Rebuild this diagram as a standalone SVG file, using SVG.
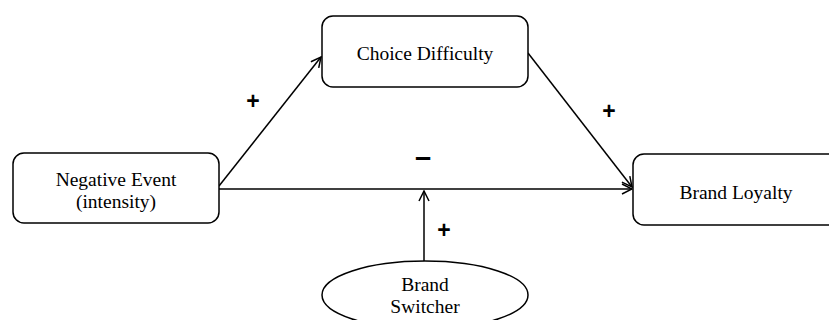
<svg xmlns="http://www.w3.org/2000/svg" width="829" height="320" viewBox="0 0 829 320">
<defs>
<style>
.box{fill:#fff;stroke:#000;stroke-width:1.5}
.lbl{font-family:"Liberation Serif","Times New Roman",serif;font-size:19.5px;fill:#000;text-anchor:middle}
.sign{font-family:"Liberation Sans",Arial,sans-serif;font-weight:bold;font-size:23px;fill:#000;text-anchor:middle}
.edge{stroke:#000;stroke-width:1.5;fill:none}
</style>
<marker id="arr" viewBox="0 0 12 12" refX="11" refY="6" markerWidth="12" markerHeight="12" markerUnits="userSpaceOnUse" orient="auto">
<path d="M1,1 L11,6 L1,11" fill="none" stroke="#000" stroke-width="1.5"/>
</marker>
</defs>
<rect width="829" height="320" fill="#fff"/>
<g id="connectors">
<line class="edge" x1="219" y1="189" x2="632" y2="189" marker-end="url(#arr)"/>
<line class="edge" x1="219" y1="186" x2="321" y2="57" marker-end="url(#arr)"/>
<line class="edge" x1="528" y1="53" x2="632" y2="187" marker-end="url(#arr)"/>
<line class="edge" x1="424" y1="261" x2="424" y2="191" marker-end="url(#arr)"/>
<text class="sign" x="253" y="109">+</text>
<text class="sign" x="609" y="119">+</text>
<text class="sign" x="444" y="238">+</text>
<text class="sign" x="423" y="167" style="font-size:29px">–</text>
</g>
<g id="negative-event">
<rect class="box" x="13" y="153" width="206" height="70" rx="11"/>
<text class="lbl" x="116" y="186">Negative Event</text>
<text class="lbl" x="116" y="208">(intensity)</text>
</g>
<g id="choice-difficulty">
<rect class="box" x="322" y="16" width="206" height="71" rx="11"/>
<text class="lbl" x="425" y="60">Choice Difficulty</text>
</g>
<g id="brand-loyalty">
<rect class="box" x="633" y="154" width="206" height="71" rx="11"/>
<text class="lbl" x="736" y="199">Brand Loyalty</text>
</g>
<g id="brand-switcher">
<ellipse class="box" cx="425" cy="295" rx="103" ry="34"/>
<text class="lbl" x="425" y="291">Brand</text>
<text class="lbl" x="425" y="313">Switcher</text>
</g>
</svg>
